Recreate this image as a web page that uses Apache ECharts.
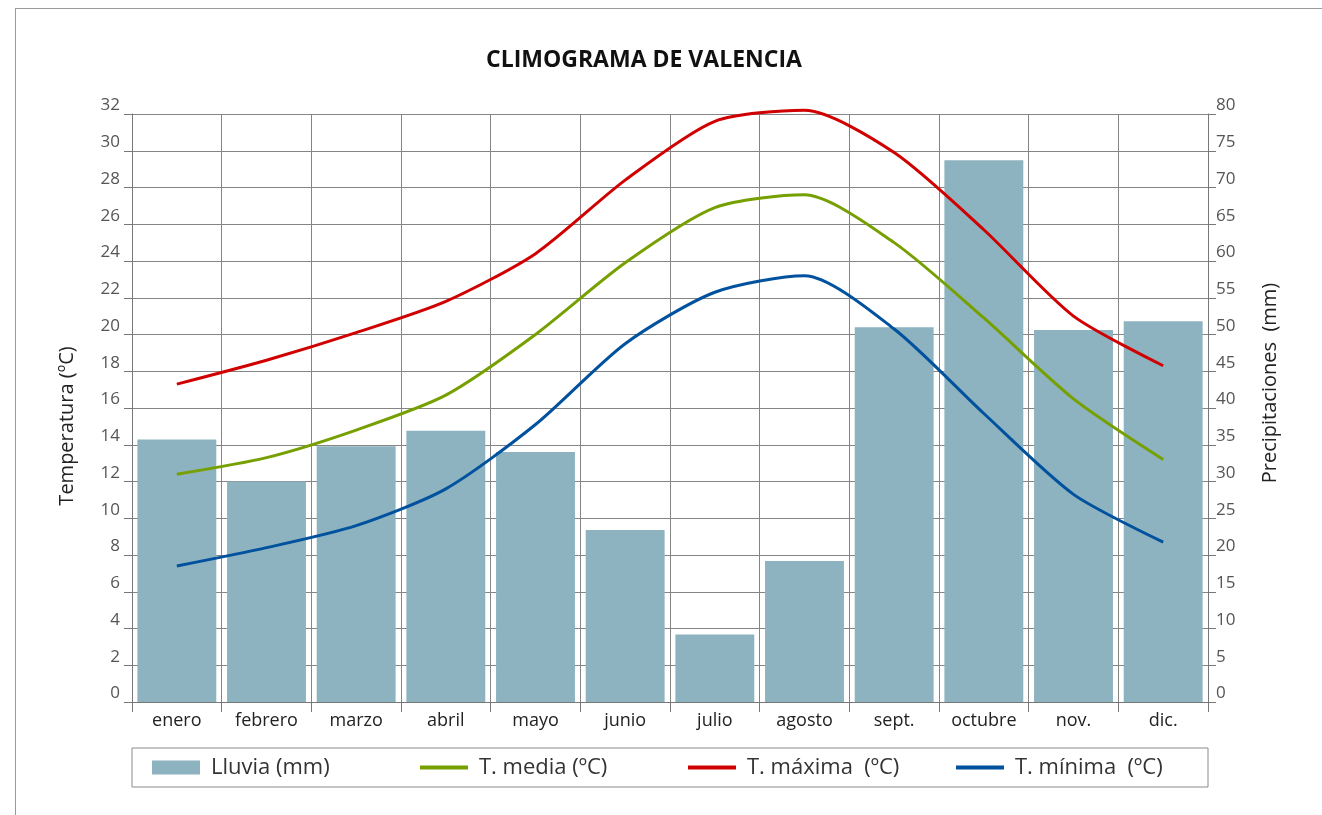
<!DOCTYPE html>
<html>
<head>
<meta charset="utf-8">
<script src="https://cdn.jsdelivr.net/npm/echarts@6/dist/echarts.min.js"></script>
<style>
html,body{margin:0;padding:0;background:#fff;}
#frame{position:absolute;left:15px;top:8px;width:1307px;height:807px;border-top:1px solid #9a9a9a;border-left:1px solid #9a9a9a;}
#chart{position:absolute;left:0;top:0;width:1322px;height:815px;}
</style>
</head>
<body>
<div id="frame"></div>
<div id="chart"></div>
<script>
const months = ['enero','febrero','marzo','abril','mayo','junio','julio','agosto','sept.','octubre','nov.','dic.'];
const rain   = [35.7, 30.0, 34.8, 36.9, 34.0, 23.4, 9.2, 19.2, 51.0, 73.7, 50.6, 51.8];
const tMedia = [12.4, 13.3, 14.8, 16.7, 20.0, 23.9, 26.9, 27.6, 25.0, 20.9, 16.5, 13.2];
const tMax   = [17.3, 18.6, 20.1, 21.8, 24.4, 28.4, 31.6, 32.2, 29.9, 25.7, 21.0, 18.3];
const tMin   = [7.4, 8.4, 9.6, 11.6, 15.1, 19.5, 22.3, 23.2, 20.3, 15.7, 11.3, 8.7];
const tempTicks = {min: 0, max: 32, interval: 2};
const rainTicks = {min: 0, max: 80, interval: 5};

const FONT = '"Open Sans", "Noto Sans", sans-serif';
const gridColor = '#858585';
const lineIcon = 'path://M0,0 L48,0 L48,4 L0,4 Z';

const chart = echarts.init(document.getElementById('chart'), null, {renderer: 'canvas'});
chart.setOption({
  backgroundColor: 'transparent',
  animation: false,
  textStyle: {fontFamily: FONT},
  title: {
    text: 'CLIMOGRAMA DE VALENCIA',
    left: 481, top: 44,
    textStyle: {fontFamily: FONT, fontSize: 23, fontWeight: 'bold', color: '#111'}
  },
  grid: {left: 132, right: 114, top: 114, bottom: 113, containLabel: false},
  legend: {
    left: 132, top: 748,
    orient: 'horizontal',
    padding: [8, 25, 8, 20],
    borderColor: '#8a8a8a', borderWidth: 1,
    itemGap: 10,
    itemWidth: 48, itemHeight: 14,
    symbolKeepAspect: true,
    textStyle: {fontFamily: FONT, fontSize: 22, color: '#333', width: 199, lineHeight: 23, padding: [0, 0, 0, 6]},
    data: [
      {name: 'Lluvia (mm)', icon: 'rect'},
      {name: 'T. media (ºC)', icon: lineIcon},
      {name: 'T. máxima  (ºC)', icon: lineIcon},
      {name: 'T. mínima  (ºC)', icon: lineIcon, textStyle: {width: 168}}
    ]
  },
  xAxis: {
    type: 'category',
    data: months,
    boundaryGap: true,
    axisLine: {show: true, lineStyle: {color: '#777', width: 1}},
    axisTick: {show: true, length: 10, lineStyle: {color: '#777'}},
    axisLabel: {fontFamily: FONT, fontSize: 18, color: '#222', margin: 10},
    splitLine: {show: true, lineStyle: {color: gridColor, width: 1}}
  },
  yAxis: [
    {
      type: 'value',
      min: tempTicks.min, max: tempTicks.max, interval: tempTicks.interval,
      position: 'left',
      name: 'Temperatura (ºC)',
      nameLocation: 'middle', nameGap: 55, nameRotate: 90,
      nameTextStyle: {fontFamily: FONT, fontSize: 20, color: '#222', padding: [0, 36, 0, 0]},
      axisLine: {show: true, lineStyle: {color: '#777'}},
      axisTick: {show: true, length: 8, lineStyle: {color: '#777'}},
      axisLabel: {fontFamily: FONT, fontSize: 17, color: '#555', margin: 12, verticalAlign: 'bottom'},
      splitLine: {show: true, lineStyle: {color: gridColor, width: 1}}
    },
    {
      type: 'value',
      min: rainTicks.min, max: rainTicks.max, interval: rainTicks.interval,
      position: 'right',
      name: 'Precipitaciones  (mm)',
      nameLocation: 'middle', nameGap: 52, nameRotate: 90,
      nameTextStyle: {fontFamily: FONT, fontSize: 20, color: '#222', padding: [0, 0, 0, 50]},
      axisLine: {show: true, lineStyle: {color: '#777'}},
      axisTick: {show: true, length: 8, lineStyle: {color: '#777'}},
      axisLabel: {fontFamily: FONT, fontSize: 17, color: '#555', margin: 8, verticalAlign: 'bottom'},
      splitLine: {show: false}
    }
  ],
  series: [
    {
      name: 'Lluvia (mm)', type: 'bar', yAxisIndex: 1,
      data: rain, barWidth: '88%',
      itemStyle: {color: '#8DB3C0'}
    },
    {
      name: 'T. media (ºC)', type: 'line', yAxisIndex: 0,
      data: tMedia, smooth: 0.25, symbol: 'none', clip: false,
      lineStyle: {color: '#76A000', width: 3},
      itemStyle: {color: '#76A000'}
    },
    {
      name: 'T. máxima  (ºC)', type: 'line', yAxisIndex: 0,
      data: tMax, smooth: 0.25, symbol: 'none', clip: false,
      lineStyle: {color: '#D10000', width: 3},
      itemStyle: {color: '#D10000'}
    },
    {
      name: 'T. mínima  (ºC)', type: 'line', yAxisIndex: 0,
      data: tMin, smooth: 0.25, symbol: 'none', clip: false,
      lineStyle: {color: '#00519E', width: 3},
      itemStyle: {color: '#00519E'}
    }
  ]
});
</script>
</body>
</html>
